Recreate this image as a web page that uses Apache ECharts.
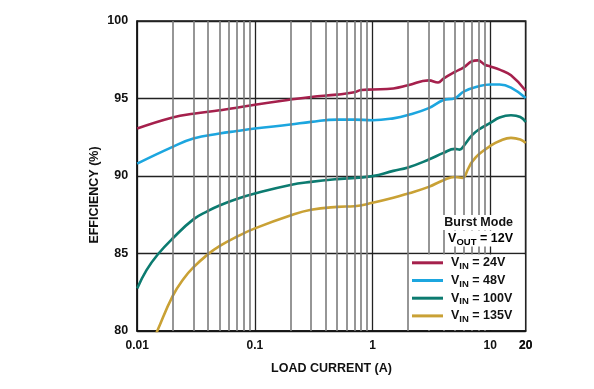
<!DOCTYPE html>
<html><head><meta charset="utf-8">
<script src="https://cdn.jsdelivr.net/npm/echarts@6/dist/echarts.min.js"></script>
<style>html,body{margin:0;padding:0;background:#fff}#c{width:594px;height:389px}</style>
</head><body><div id="c"></div>
<script>
// ---- data ----
const seriesNames = ['VIN = 24V', 'VIN = 48V', 'VIN = 100V', 'VIN = 135V'];
const vinLabels = ['24V', '48V', '100V', '135V'];

const vin24Load = [0.01,0.02,0.03,0.05,0.07,0.1,0.2,0.3,0.5,0.7,0.8,1,1.5,2,3,3.6,4,5,6,7,7.8,9,10,12,15,20];
const vin24Eff  = [93.06,93.77,94.02,94.24,94.4,94.6,94.93,95.1,95.25,95.4,95.55,95.58,95.65,95.85,96.17,96.03,96.28,96.71,97.03,97.4,97.46,97.18,97.07,96.86,96.5,95.5];

const vin48Load = [0.01,0.02,0.03,0.05,0.07,0.1,0.2,0.3,0.5,0.7,1,1.5,2,3,4,5,6,8,10,12,15,20];
const vin48Eff  = [90.8,91.88,92.42,92.74,92.9,93.06,93.32,93.49,93.64,93.64,93.6,93.72,93.93,94.38,94.9,95.02,95.46,95.79,95.9,95.9,95.7,95.03];

const vin100Load = [0.01,0.012,0.015,0.02,0.03,0.04,0.05,0.07,0.1,0.2,0.3,0.5,1,1.5,2,3,4,5,5.5,6,7,8,10,12,15,18,20];
const vin100Eff  = [82.75,83.93,84.95,85.97,87.2,87.75,88.1,88.52,88.87,89.42,89.62,89.8,89.99,90.33,90.55,91.06,91.49,91.75,91.7,91.98,92.63,93.0,93.42,93.77,93.92,93.81,93.49];

const vin135Load = [0.0135,0.0148,0.02,0.025,0.03,0.04,0.05,0.07,0.1,0.2,0.3,0.5,0.7,1,1.5,2,3,4,5,5.8,6.5,7,8,10,12,15,18,20];
const vin135Eff  = [79.3,80.0,82.25,83.4,84.1,84.96,85.48,86.08,86.62,87.45,87.82,88.01,88.05,88.27,88.59,88.87,89.3,89.73,89.94,89.88,90.48,90.91,91.4,91.94,92.26,92.46,92.35,92.13];

const minorGridLoads = [0.02,0.03,0.04,0.05,0.06,0.07,0.08,0.09,0.2,0.3,0.4,0.5,0.6,0.7,0.8,0.9,2,3,4,5,6,7,8,9];
const xMin = 0.01, xMax = 20;
const yMin = 80, yMax = 100, yStep = 5;
const extraXTick = '20';

const colors = ['#A5204C', '#1CA6DF', '#0C7B70', '#C9A135'];
// --------------------------------------

const FONT = '"Liberation Sans", Arial, sans-serif';
const zip = (xs, ys) => xs.map((x, i) => [x, ys[i]]);
const loads = [vin24Load, vin48Load, vin100Load, vin135Load];
const effs = [vin24Eff, vin48Eff, vin100Eff, vin135Eff];

const chart = echarts.init(document.getElementById('c'), null, {renderer: 'canvas'});

const series = [{
  name: 'grid-minor', type: 'line', data: [], silent: true, z: 1,
  markLine: {
    silent: true, symbol: 'none', animation: false,
    label: {show: false},
    lineStyle: {color: '#7c7c7c', width: 1.6, type: 'solid', opacity: 1},
    emphasis: {disabled: true},
    data: minorGridLoads.map(v => ({xAxis: v}))
  }
}];
seriesNames.forEach((n, i) => {
  series.push({
    name: n, type: 'line', data: zip(loads[i], effs[i]),
    smooth: 0.45, showSymbol: false, symbol: 'none', z: 3,
    lineStyle: {color: colors[i], width: 2.6},
    itemStyle: {color: colors[i]},
    clip: true, animation: false
  });
});

const rich = {
  a: {fontFamily: FONT, fontWeight: 'bold', fontSize: 12.5, color: '#111', lineHeight: 16, verticalAlign: 'middle'},
  b: {fontFamily: FONT, fontWeight: 'bold', fontSize: 9.5, color: '#111', lineHeight: 16, padding: [7, 0, 0, 0]}
};

chart.setOption({
  animation: false,
  backgroundColor: '#fff',
  grid: {left: 137.2, top: 21, width: 388.5, height: 310, show: true, borderColor: '#111', borderWidth: 1.5, containLabel: false},
  xAxis: {
    type: 'log', logBase: 10, min: xMin, max: xMax,
    axisLine: {show: true, lineStyle: {color: '#111', width: 1.5}},
    axisTick: {show: false},
    splitLine: {show: true, lineStyle: {color: '#222', width: 1.3}},
    axisLabel: {fontFamily: FONT, fontWeight: 'bold', fontSize: 12, color: '#111', margin: 9,
      formatter: v => String(+v)}
  },
  yAxis: {
    type: 'value', min: yMin, max: yMax, interval: yStep,
    axisLine: {show: true, lineStyle: {color: '#111', width: 1.5}},
    axisTick: {show: false},
    splitLine: {show: true, lineStyle: {color: '#222', width: 1.3}},
    axisLabel: {fontFamily: FONT, fontWeight: 'bold', fontSize: 12.5, color: '#111', margin: 9}
  },
  legend: {
    data: seriesNames, orient: 'vertical', left: 412, top: 254.3, z: 10,
    icon: 'rect', itemWidth: 31, itemHeight: 3, itemGap: 0.7, padding: 0,
    selectedMode: false,
    textStyle: {rich: rich, lineHeight: 16, padding: [0, 0, 0, 3]},
    formatter: name => '{a|V}{b|IN}{a| = ' + vinLabels[seriesNames.indexOf(name)] + '}'
  },
  series: series
});

function place() {
  const p20 = chart.convertToPixel({gridIndex: 0}, [xMax, yMin]);
  const pRect0 = chart.convertToPixel({gridIndex: 0}, [2, 85]);
  chart.setOption({
    graphic: [
      {type: 'rect', z: 8, silent: true,
       shape: {x: pRect0[0] + 1, y: pRect0[1] + 1, width: p20[0] - pRect0[0] - 2, height: p20[1] - pRect0[1] - 2},
       style: {fill: '#fff'}},
      {type: 'text', z: 9, silent: true, x: 515, y: 222.5,
       style: {text: 'Burst Mode', font: 'bold 12.5px ' + FONT, fill: '#111', align: 'right', verticalAlign: 'middle',
                backgroundColor: '#fff', padding: [1, 2, 1, 2]}},
      {type: 'text', z: 9, silent: true, x: 515, y: 238.5,
       style: {text: '{a|V}{b|OUT}{a| = 12V}', rich: rich, align: 'right', verticalAlign: 'middle',
                backgroundColor: '#fff', padding: [0, 2, 0, 2]}},
      {type: 'text', z: 9, silent: true, x: p20[0], y: p20[1] + 9,
       style: {text: extraXTick, font: 'bold 12px ' + FONT, fill: '#111', align: 'center', verticalAlign: 'top'}},
      {type: 'text', z: 9, silent: true, x: 331.5, y: 369,
       style: {text: 'LOAD CURRENT (A)', font: 'bold 12.5px ' + FONT, fill: '#111', align: 'center', verticalAlign: 'middle'}},
      {type: 'text', z: 9, silent: true, x: 95, y: 195, rotation: Math.PI / 2,
       style: {text: 'EFFICIENCY (%)', font: 'bold 12.5px ' + FONT, fill: '#111', align: 'center', verticalAlign: 'middle'}}
    ]
  });
}
place();
</script>
</body></html>
